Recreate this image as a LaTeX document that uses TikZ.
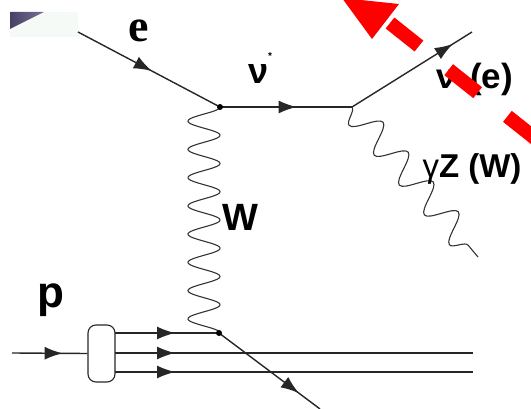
\documentclass[tikz,border=0pt]{standalone}
\usepackage{fontspec}
\setsansfont{Liberation Sans}
\newfontfamily\eserif{Liberation Serif}
\usetikzlibrary{arrows.meta,decorations.markings,decorations.pathmorphing}
\definecolor{boxpale}{RGB}{245,250,247}
\definecolor{wedgedark}{RGB}{72,64,102}
\definecolor{wedgelight}{RGB}{120,112,148}

\begin{document}
\begin{tikzpicture}[x=1pt,y=-1pt,
    fermion/.style={draw=black!85, line width=1.4pt, postaction={decorate},
      decoration={markings, mark=at position #1 with {\arrow{Latex[length=18pt,width=13pt]}}}},
    fermion/.default=0.5,
    bosonline/.style={draw=black!80, line width=1.1pt},
    gzboson/.style={bosonline, decorate, decoration={snake, segment length=39pt, amplitude=14pt, mirror}},
    lbl/.style={inner sep=0pt, text=black},
    vtxdot/.style={fill=black}]
    \useasboundingbox (0,0) rectangle (531,409);
    \clip (0,0) rectangle (531,409);
    % corner of a slide behind the picture
    \fill[boxpale] (10,12) rectangle (78,37);
    \shade[left color=wedgedark, right color=wedgelight] (10,12) -- (44,12) -- (10,29) -- cycle;
    % vertices and end points
    \coordinate (eIn) at (78,32);
    \coordinate (vtxA) at (220,107);
    \coordinate (vtxB) at (352,107);
    \coordinate (nuOut) at (472,32);
    \coordinate (gzEnd) at (478,257);
    \coordinate (vtxC) at (219,333);
    \coordinate (qOut) at (320,409);
    \coordinate (pIn) at (12,353);
    \node[draw=black!85, line width=1.1pt, rounded corners=8pt, minimum width=27pt,
      minimum height=57pt, inner sep=0pt] (blob) at (101.5,353.5) {};
    \coordinate (qA) at (115,333);
    \coordinate (qB) at (115,353);
    \coordinate (qC) at (115,372);
    \coordinate (qBEnd) at (473,353);
    \coordinate (qCEnd) at (473,372);
    % lepton side
    \draw[fermion=0.52] (eIn) -- (vtxA);
    \draw[fermion=0.58] (vtxA) -- (vtxB);
    \draw[fermion=0.84] (vtxB) -- (nuOut);
    \draw[gzboson] (vtxB) -- (gzEnd);
    % exchanged W
    \draw[bosonline] plot[domain=0:1, samples=300, smooth] ({204+16*cos(2880*\x)}, {107+226*\x});
    % proton side
    \draw[fermion=0.67] (pIn) -- (blob.west);
    \draw[fermion=60pt] (qA) -- (vtxC);
    \draw[fermion=60pt] (qB) -- (qBEnd);
    \draw[fermion=60pt] (qC) -- (qCEnd);
    \draw[fermion=0.79] (vtxC) -- (qOut);
    \fill[vtxdot] (vtxA) circle (3pt);
    \fill[vtxdot] (vtxC) circle (3pt);
    % labels
    \node[lbl, font=\eserif\bfseries\fontsize{46}{46}\selectfont] (eLab) at (139,31) {e};
    \node[lbl, font=\sffamily\bfseries\fontsize{36}{36}\selectfont] (nuStarLab) at (260,68) {ν\raisebox{24pt}{\fontsize{10}{10}\selectfont*}};
    \node[lbl, font=\sffamily\bfseries\fontsize{35}{35}\selectfont] (nuLab) at (475,79) {ν\hspace{14pt}(e)};
    \node[lbl, font=\sffamily\bfseries\fontsize{33}{33}\selectfont] (gzLab) at (472,169) {{\mdseries γ}Z (W)};
    \node[lbl, font=\sffamily\bfseries\fontsize{38}{38}\selectfont] (wLab) at (240,217) {W};
    \node[lbl, font=\sffamily\bfseries\fontsize{44}{44}\selectfont] (pLab) at (51,300) {p};
    % red pointer on top
    \coordinate (redTip) at (342,-2);
    \coordinate (redCornerA) at (372,39);
    \coordinate (redCornerB) at (399,4);
    \coordinate (redStart) at (390,23);
    \coordinate (redEnd) at (595,186);
    \fill[red] (redTip) -- (redCornerA) -- (redCornerB) -- cycle;
    \draw[red, line width=14pt, dash pattern=on 37pt off 38pt] (redStart) -- (redEnd);
\end{tikzpicture}
\end{document}
